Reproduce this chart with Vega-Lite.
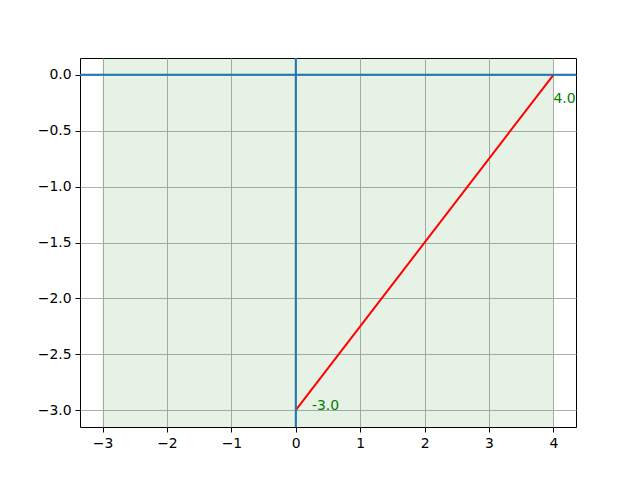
{
  "$schema": "https://vega.github.io/schema/vega-lite/v6.json",
  "width": 496,
  "height": 369,
  "autosize": {"type": "none"},
  "padding": {"left": 80, "top": 58, "right": 64, "bottom": 53},
  "background": "white",
  "config": {
    "view": {"stroke": "black", "strokeWidth": 1},
    "axis": {
      "labelFont": "DejaVu Sans",
      "labelFontSize": 13.9,
      "labelColor": "black",
      "domain": false,
      "tickColor": "black",
      "tickSize": 5,
      "tickWidth": 1,
      "labelPadding": 4,
      "gridColor": "#b0b0b0",
      "gridWidth": 1,
      "gridOpacity": 1,
      "title": null,
      "zindex": 1
    }
  },
  "datasets": {
    "span": [{"x0": -3, "x1": 4}],
    "hline": [{"y": 0}],
    "vline": [{"x": 0}],
    "line": [{"x": 0, "y": -3}, {"x": 4, "y": 0}],
    "labels": [{"x": 0.25, "y": -3.0, "t": "-3.0"}, {"x": 4, "y": -0.25, "t": "4.0"}]
  },
  "layer": [
    {
      "data": {"name": "span"},
      "mark": {"type": "rect", "color": "green", "opacity": 0.1},
      "encoding": {
        "x": {"field": "x0", "type": "quantitative",
          "scale": {"domain": [-3.35, 4.35], "nice": false, "zero": false},
          "axis": {"values": [-3, -2, -1, 0, 1, 2, 3, 4], "format": "d", "labelExpr": "replace(datum.label, '-', '\u2212')"}},
        "x2": {"field": "x1"}
      }
    },
    {
      "data": {"name": "line"},
      "mark": {"type": "line", "color": "red", "strokeWidth": 2, "zindex": 2},
      "encoding": {
        "x": {"field": "x", "type": "quantitative"},
        "y": {"field": "y", "type": "quantitative",
          "scale": {"domain": [-3.15, 0.15], "nice": false, "zero": false},
          "axis": {"values": [0, -0.5, -1, -1.5, -2, -2.5, -3], "format": ".1f", "labelExpr": "replace(datum.label, '-', '\u2212')"}}
      }
    },
    {
      "data": {"name": "hline"},
      "mark": {"type": "rule", "color": "#1f77b4", "strokeWidth": 2, "zindex": 2},
      "encoding": {"y": {"field": "y", "type": "quantitative"}}
    },
    {
      "data": {"name": "vline"},
      "mark": {"type": "rule", "color": "#1f77b4", "strokeWidth": 2, "zindex": 2},
      "encoding": {"x": {"field": "x", "type": "quantitative"}}
    },
    {
      "data": {"name": "labels"},
      "mark": {"type": "text", "color": "green", "font": "DejaVu Sans", "fontSize": 13.9, "align": "left", "baseline": "alphabetic", "zindex": 2},
      "encoding": {
        "x": {"field": "x", "type": "quantitative"},
        "y": {"field": "y", "type": "quantitative"},
        "text": {"field": "t"}
      }
    }
  ]
}
